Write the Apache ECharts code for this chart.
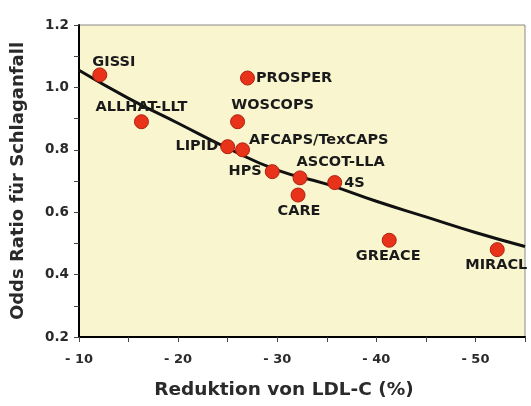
<!DOCTYPE html>
<html>
<head>
<meta charset="utf-8">
<script src="https://cdn.jsdelivr.net/npm/echarts@6/dist/echarts.min.js"></script>
<style>html,body{margin:0;padding:0;background:#fff}#c{width:531px;height:406px}</style>
</head>
<body>
<div id="c"></div>
<script>
// Data
const studies = ['GISSI','ALLHAT-LLT','PROSPER','WOSCOPS','LIPID','AFCAPS/TexCAPS','HPS','ASCOT-LLA','CARE','4S','GREACE','MIRACL'];
const ldlReduction = [12.1, 16.3, 27.0, 26.0, 25.0, 26.5, 29.5, 32.3, 32.1, 35.8, 41.3, 52.2];
const oddsRatio = [1.04, 0.89, 1.03, 0.89, 0.81, 0.80, 0.73, 0.71, 0.655, 0.695, 0.51, 0.48];
const trendX = [10, 15, 20, 25, 30, 35, 40, 45, 50, 55];
const trendY = [1.055, 0.965, 0.885, 0.805, 0.735, 0.69, 0.635, 0.585, 0.535, 0.49];
const xTicks = [10, 20, 30, 40, 50];
const yTicks = [0.2, 0.4, 0.6, 0.8, 1.0, 1.2];

// Label placement (style, not data)
const labelPlace = {
  'GISSI': {position: 'top', offset: [14, 7]},
  'ALLHAT-LLT': {position: 'top', offset: [0, 6]},
  'PROSPER': {position: 'right', offset: [-4, 0]},
  'WOSCOPS': {position: 'top', offset: [35, 4]},
  'LIPID': {position: 'left', offset: [3, 0]},
  'AFCAPS/TexCAPS': {position: 'right', offset: [-6, -10]},
  'HPS': {position: 'left', offset: [2, 0]},
  'ASCOT-LLA': {position: 'right', offset: [-16, -16]},
  'CARE': {position: 'bottom', offset: [1, -4]},
  '4S': {position: 'right', offset: [-3, 1]},
  'GREACE': {position: 'bottom', offset: [-1, -4]},
  'MIRACL': {position: 'bottom', offset: [-1, -4]}
};

const points = studies.map((s, i) => ({
  name: s,
  value: [ldlReduction[i], oddsRatio[i]],
  label: labelPlace[s]
}));
const trend = trendX.map((x, i) => [x, trendY[i]]);

const chart = echarts.init(document.getElementById('c'), null, {renderer: 'canvas'});
const font = '"DejaVu Sans", Arial, sans-serif';
chart.setOption({
  animation: false,
  backgroundColor: '#ffffff',
  grid: {left: 79, right: 6, top: 25, bottom: 69, outerBoundsMode: 'none', show: true, backgroundColor: '#f8f5cf', borderColor: '#8a8a8a', borderWidth: 1},
  xAxis: {
    type: 'value', min: 10, max: 55, interval: 5,
    name: 'Reduktion von LDL-C (%)', nameLocation: 'middle', nameGap: 44,
    nameTextStyle: {fontFamily: font, fontWeight: 'bold', fontSize: 18.5, color: '#2a2a2a', padding: [0, 36, 0, 0]},
    axisLine: {show: true, onZero: false, lineStyle: {color: '#000', width: 2}},
    axisTick: {show: true, length: 5, lineStyle: {color: '#444', width: 1}},
    axisLabel: {fontFamily: font, fontWeight: 'bold', fontSize: 13, color: '#2a2a2a', margin: 16,
      formatter: v => xTicks.indexOf(v) >= 0 ? '- ' + v : ''},
    splitLine: {show: false}
  },
  yAxis: {
    type: 'value', min: 0.2, max: 1.2, interval: 0.1,
    name: 'Odds Ratio für Schlaganfall', nameLocation: 'middle', nameGap: 52,
    nameTextStyle: {fontFamily: font, fontWeight: 'bold', fontSize: 18, color: '#2a2a2a'},
    axisLine: {show: true, onZero: false, lineStyle: {color: '#000', width: 2}},
    axisTick: {show: true, length: 5, lineStyle: {color: '#444', width: 1}},
    axisLabel: {fontFamily: font, fontWeight: 'bold', fontSize: 13.5, color: '#2a2a2a', margin: 10,
      formatter: v => { const r = Math.round(v * 10) / 10; return yTicks.some(t => Math.abs(t - r) < 1e-6) ? r.toFixed(1) : ''; }},
    splitLine: {show: false}
  },
  series: [
    {
      type: 'line', data: trend, smooth: true, symbol: 'none',
      lineStyle: {color: '#111', width: 3}, z: 2
    },
    {
      type: 'scatter', data: points, symbolSize: 14,
      itemStyle: {color: '#e8321a', borderColor: '#b0200e', borderWidth: 1, opacity: 1},
      label: {show: true, formatter: p => p.name, fontFamily: font, fontWeight: 'bold', fontSize: 14.5, color: '#1a1a1a'},
      z: 3
    }
  ]
});
</script>
</body>
</html>
